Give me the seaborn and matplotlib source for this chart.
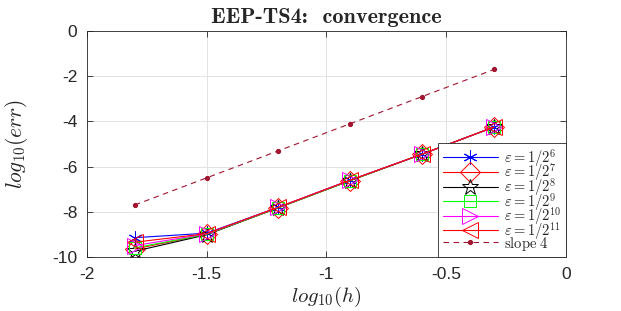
import numpy as np
import pandas as pd
import matplotlib
matplotlib.use("Agg")
import matplotlib.pyplot as plt
import seaborn as sns

# log10(h) sample points
log_h = [-1.8, -1.5, -1.2, -0.9, -0.6, -0.3]

# log10(err) for each epsilon
err_e6 = [-9.15, -8.95, -7.80, -6.60, -5.45, -4.25]
err_e7 = [-9.65, -9.00, -7.82, -6.62, -5.45, -4.25]
err_e8 = [-9.75, -9.02, -7.82, -6.62, -5.45, -4.25]
err_e9 = [-9.60, -9.00, -7.82, -6.62, -5.45, -4.25]
err_e10 = [-9.50, -8.98, -7.80, -6.60, -5.45, -4.25]
err_e11 = [-9.35, -8.97, -7.80, -6.60, -5.45, -4.25]
slope4 = [-7.70, -6.50, -5.30, -4.10, -2.90, -1.70]

labels = [r'$\varepsilon = 1/2^{6}$', r'$\varepsilon = 1/2^{7}$', r'$\varepsilon = 1/2^{8}$',
          r'$\varepsilon = 1/2^{9}$', r'$\varepsilon = 1/2^{10}$', r'$\varepsilon = 1/2^{11}$']

sns.set_style("white")
plt.rcParams['mathtext.fontset'] = 'cm'
plt.rcParams['font.family'] = ['Liberation Sans', 'DejaVu Sans']

fig = plt.figure(figsize=(6.21, 3.11), dpi=100)
ax = fig.add_axes([0.14, 0.174, 0.771, 0.726])

series = [err_e6, err_e7, err_e8, err_e9, err_e10, err_e11]
colors = ['#0000ff', '#ff0000', '#000000', '#00ff00', '#ff00ff', '#ff0000']
markers = [(6, 2, 0), 'D', '*', 's', '>', '<']
msizes = [10, 10, 12, 8, 11, 11]

for vals, lab, c, m, ms in zip(series, labels, colors, markers, msizes):
    df = pd.DataFrame({'x': log_h, 'y': vals})
    sns.lineplot(data=df, x='x', y='y', ax=ax, color=c, marker=m, markersize=ms,
                 markerfacecolor='none', markeredgecolor=c, markeredgewidth=0.7,
                 linewidth=0.8, label=lab)

df_s = pd.DataFrame({'x': log_h, 'y': slope4})
sns.lineplot(data=df_s, x='x', y='y', ax=ax, color='#a2142f', marker='.', markersize=6,
             markerfacecolor='#a2142f', markeredgecolor='#a2142f', linestyle=(0, (5, 4)),
             linewidth=0.8, label=r'$\mathrm{slope\ 4}$')

ax.set_xlim(-2, 0)
ax.set_ylim(-10, 0)
ax.set_xticks([-2, -1.5, -1, -0.5, 0])
ax.set_xticklabels(['-2', '-1.5', '-1', '-0.5', '0'])
ax.set_yticks([-10, -8, -6, -4, -2, 0])
ax.set_yticklabels(['-10', '-8', '-6', '-4', '-2', '0'])
ax.tick_params(direction='in', length=4, width=0.6, labelsize=12.5, pad=7, top=True, right=True,
               bottom=True, left=True, colors='#262626')
ax.grid(True, color='#e3e3e3', linewidth=0.7)
for sp in ax.spines.values():
    sp.set_visible(True)
    sp.set_linewidth(0.6)
    sp.set_color('#262626')

ax.set_xlabel(r'$log_{10}(h)$', fontsize=15, labelpad=2)
ax.set_ylabel(r'$log_{10}(err)$', fontsize=15.5, labelpad=16)
ax.set_title('EEP-TS4:  convergence', fontsize=16, fontfamily='cmb10', pad=6)

leg = ax.legend(loc='lower right', fontsize=10.5, handlelength=3.8, borderpad=0.3,
                labelspacing=-0.5, handletextpad=0.4, fancybox=False, framealpha=1,
                edgecolor='#262626', borderaxespad=0.0)
leg.get_frame().set_linewidth(0.6)

fig.savefig('out.png', dpi=100)
